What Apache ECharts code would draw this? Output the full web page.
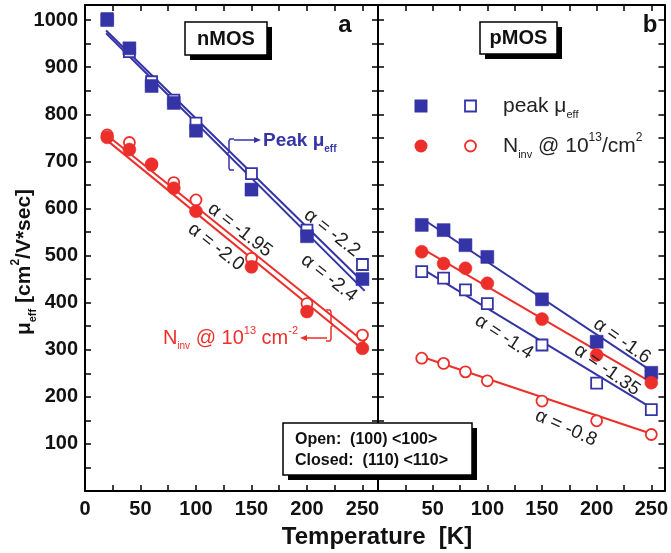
<!DOCTYPE html>
<html>
<head>
<meta charset="utf-8">
<script src="https://cdn.jsdelivr.net/npm/echarts@6/dist/echarts.min.js"></script>
<style>
  html, body { margin: 0; padding: 0; background: #fff; }
  #chart { width: 671px; height: 553px; }
</style>
</head>
<body>
<div id="chart"></div>
<script>
// Temperatures [K]
const tempN = [20, 40, 60, 80, 100, 150, 200, 250];
const tempP = [40, 60, 80, 100, 150, 200, 250];

// nMOS effective mobility [cm2/V*sec]
const nPeakClosed = [1000, 940, 860, 824, 765, 640, 541, 450];   // (110) <110>
const nPeakOpen   = [1003, 933, 869, 830, 781, 674, 554, 481];   // (100) <100>
const nNinvClosed = [751, 725, 694, 643, 594, 476, 381, 303];
const nNinvOpen   = [756, 740, 692, 655, 618, 494, 398, 331];

// pMOS effective mobility [cm2/V*sec]
const pPeakClosed = [565, 554, 522, 497, 407, 317, 251];
const pPeakOpen   = [466, 452, 427, 398, 310, 229, 173];
const pNinvClosed = [508, 483, 473, 441, 365, 289, 230];
const pNinvOpen   = [282, 271, 253, 234, 191, 149, 120];

// Fitted trend lines: [start, end] as [T, mobility]
const fitNPeakOpen   = [[19, 978], [250, 445]];   // alpha = -2.2
const fitNPeakClosed = [[19, 972], [252, 425]];   // alpha = -2.4
const fitNNinvOpen   = [[16, 763], [252, 316]];   // alpha = -1.95
const fitNNinvClosed = [[16, 752], [252, 298]];   // alpha = -2.0
const fitPPeakClosed = [[42, 576], [252, 252]];   // alpha = -1.6
const fitPNinvClosed = [[40, 515], [252, 228]];   // alpha = -1.35
const fitPPeakOpen   = [[40, 472], [252, 174]];   // alpha = -1.4
const fitPNinvOpen   = [[40, 285], [252, 120]];   // alpha = -0.8

// Tick labels
const yTickLabels = [100, 200, 300, 400, 500, 600, 700, 800, 900, 1000];
const xTickLabelsN = [0, 50, 100, 150, 200, 250];
const xTickLabelsP = [50, 100, 150, 200, 250];

const BLUE = '#3434a6';
const RED = '#ec2f2a';
const FONT = '"Liberation Sans", Arial, Helvetica, sans-serif';

const chart = echarts.init(document.getElementById('chart'), null, { renderer: 'canvas' });

function xAxisPair(grid, max, labels) {
  const base = {
    type: 'value', gridIndex: grid, min: 0, max: max, interval: 25,
    axisLine: { show: true, onZero: false, lineStyle: { color: '#000', width: 2 } },
    axisTick: { show: true, inside: true, length: 6, lineStyle: { color: '#000', width: 1.5 } },
    splitLine: { show: false }
  };
  return [
    Object.assign({}, base, {
      position: 'bottom',
      axisLabel: {
        show: true, margin: 8, color: '#111', fontSize: 20, fontWeight: 'bold', fontFamily: FONT,
        formatter: v => labels.includes(v) ? String(v) : ''
      }
    }),
    Object.assign({}, base, { position: 'top', axisLabel: { show: false } })
  ];
}

function yAxisPair(grid, showLabels) {
  const base = {
    type: 'value', gridIndex: grid, min: 0, max: 1032, interval: 50,
    axisLine: { show: true, onZero: false, lineStyle: { color: '#000', width: 2 } },
    axisTick: { show: true, inside: true, length: 6, lineStyle: { color: '#000', width: 1.5 } },
    splitLine: { show: false }
  };
  return [
    Object.assign({}, base, {
      position: 'left',
      axisLabel: {
        show: showLabels, margin: 7, color: '#111', fontSize: 20, fontWeight: 'bold', fontFamily: FONT,
        formatter: v => yTickLabels.includes(v) ? String(v) : ''
      }
    }),
    Object.assign({}, base, { position: 'right', axisLabel: { show: false } })
  ];
}

function pts(xs, ys) { return xs.map((x, i) => [x, ys[i]]); }

function marks(xi, yi, data, shape, filled, color) {
  return {
    type: 'scatter', xAxisIndex: xi, yAxisIndex: yi, data: data,
    symbol: shape === 'square' ? 'rect' : 'circle',
    symbolSize: filled ? 13 : 11,
    itemStyle: filled
      ? { color: color, borderColor: color, borderWidth: 0.5, opacity: 1 }
      : { color: '#fff', borderColor: color, borderWidth: 1.8, opacity: 1 },
    z: filled ? 4 : 3
  };
}

function fit(xi, yi, data, color) {
  return {
    type: 'line', xAxisIndex: xi, yAxisIndex: yi, data: data,
    symbol: 'none', lineStyle: { color: color, width: 2 }, z: 2
  };
}

function alphaText(txt, x, y, deg) {
  return {
    type: 'text', x: x, y: y, rotation: -deg * Math.PI / 180, z: 10,
    style: { text: txt, fill: '#222', font: '19px ' + FONT, align: 'center', verticalAlign: 'middle' }
  };
}

function shadowBox(x, y, w, h) {
  return [
    { type: 'rect', shape: { x: x + 5, y: y + 5, width: w, height: h }, style: { fill: '#000' }, z: 8 },
    { type: 'rect', shape: { x: x, y: y, width: w, height: h }, style: { fill: '#fff', stroke: '#000', lineWidth: 1.5 }, z: 9 }
  ];
}

const graphics = [];
// panel tags
graphics.push(...shadowBox(185, 22, 82, 33));
graphics.push({ type: 'text', x: 226, y: 39, z: 10,
  style: { text: 'nMOS', font: 'bold 20px ' + FONT, fill: '#111', align: 'center', verticalAlign: 'middle' } });
graphics.push(...shadowBox(480, 22, 77, 32));
graphics.push({ type: 'text', x: 518.5, y: 38.5, z: 10,
  style: { text: 'pMOS', font: 'bold 20px ' + FONT, fill: '#111', align: 'center', verticalAlign: 'middle' } });
graphics.push({ type: 'text', x: 345, y: 25, z: 10,
  style: { text: 'a', font: 'bold 24px ' + FONT, fill: '#111', align: 'center', verticalAlign: 'middle' } });
graphics.push({ type: 'text', x: 650, y: 25, z: 10,
  style: { text: 'b', font: 'bold 24px ' + FONT, fill: '#111', align: 'center', verticalAlign: 'middle' } });

// orientation box
graphics.push(...shadowBox(283, 423, 189, 52));
graphics.push({ type: 'text', x: 295, y: 440, z: 10,
  style: { text: 'Open:  (100) <100>', font: 'bold 16px ' + FONT, fill: '#111', align: 'left', verticalAlign: 'middle' } });
graphics.push({ type: 'text', x: 295, y: 461, z: 10,
  style: { text: 'Closed:  (110) <110>', font: 'bold 16px ' + FONT, fill: '#111', align: 'left', verticalAlign: 'middle' } });

// legend of panel b
graphics.push({ type: 'rect', shape: { x: 414.5, y: 99.5, width: 13, height: 13 }, style: { fill: BLUE }, z: 10 });
graphics.push({ type: 'rect', shape: { x: 465, y: 100.5, width: 11, height: 11 }, style: { fill: '#fff', stroke: BLUE, lineWidth: 1.8 }, z: 10 });
graphics.push({ type: 'circle', shape: { cx: 421, cy: 146, r: 6.5 }, style: { fill: RED }, z: 10 });
graphics.push({ type: 'circle', shape: { cx: 470.5, cy: 146, r: 5.5 }, style: { fill: '#fff', stroke: RED, lineWidth: 1.8 }, z: 10 });
graphics.push({ type: 'text', x: 503, y: 106, z: 10,
  style: {
    text: '{m|peak μ}{s|eff}', align: 'left', verticalAlign: 'middle',
    rich: {
      m: { font: '21px ' + FONT, fill: '#222', lineHeight: 28, verticalAlign: 'middle' },
      s: { font: '11px ' + FONT, fill: '#222', lineHeight: 12, verticalAlign: 'bottom' }
    }
  } });
graphics.push({ type: 'text', x: 503, y: 146, z: 10,
  style: {
    text: '{m|N}{s|inv}{m| @ 10}{p|13}{m|/cm}{p|2}', align: 'left', verticalAlign: 'middle',
    rich: {
      m: { font: '21px ' + FONT, fill: '#222', lineHeight: 28, verticalAlign: 'middle' },
      s: { font: '11px ' + FONT, fill: '#222', lineHeight: 12, verticalAlign: 'bottom' },
      p: { font: '12px ' + FONT, fill: '#222', lineHeight: 12, verticalAlign: 'top' }
    }
  } });

// slope annotations
graphics.push(alphaText('α = -2.2', 332, 233, 38));
graphics.push(alphaText('α = -2.4', 329, 278, 38));
graphics.push(alphaText('α = -1.95', 240, 230, 38));
graphics.push(alphaText('α = -2.0', 216, 247, 38));
graphics.push(alphaText('α = -1.6', 622, 341, 35));
graphics.push(alphaText('α = -1.35', 607, 370, 35));
graphics.push(alphaText('α = -1.4', 504, 337, 33));
graphics.push(alphaText('α = -0.8', 566, 428, 24));

// "Peak μeff" callout with brace and arrow
graphics.push({ type: 'polyline', z: 10,
  shape: { points: [[234, 139], [230, 139], [229, 141], [229, 152], [227, 154], [229, 156], [229, 168], [230, 170], [234, 170]] },
  style: { stroke: BLUE, lineWidth: 1.5, fill: null } });
graphics.push({ type: 'line', z: 10, shape: { x1: 234, y1: 140, x2: 255, y2: 140 }, style: { stroke: BLUE, lineWidth: 1.5 } });
graphics.push({ type: 'polygon', z: 10, shape: { points: [[261, 140], [254, 137], [254, 143]] }, style: { fill: BLUE } });
graphics.push({ type: 'text', x: 263, y: 141, z: 10,
  style: {
    text: '{m|Peak μ}{s|eff}', align: 'left', verticalAlign: 'middle',
    rich: {
      m: { font: 'bold 19px ' + FONT, fill: BLUE, lineHeight: 26, verticalAlign: 'middle' },
      s: { font: 'bold 10px ' + FONT, fill: BLUE, lineHeight: 11, verticalAlign: 'bottom' }
    }
  } });

// "Ninv @ 10^13 cm^-2" callout with brace and arrow
graphics.push({ type: 'polyline', z: 10,
  shape: { points: [[326, 310], [330, 310], [331, 312], [331, 323], [333, 325], [331, 327], [331, 339], [330, 341], [326, 341]] },
  style: { stroke: RED, lineWidth: 1.5, fill: null } });
graphics.push({ type: 'line', z: 10, shape: { x1: 327, y1: 338, x2: 306, y2: 338 }, style: { stroke: RED, lineWidth: 1.5 } });
graphics.push({ type: 'polygon', z: 10, shape: { points: [[300, 338], [307, 335], [307, 341]] }, style: { fill: RED } });
graphics.push({ type: 'text', x: 298, y: 338, z: 10,
  style: {
    text: '{m|N}{s|inv}{m| @ 10}{p|13}{m| cm}{p|-2}', align: 'right', verticalAlign: 'middle',
    rich: {
      m: { font: '20px ' + FONT, fill: RED, lineHeight: 26, verticalAlign: 'middle' },
      s: { font: '10px ' + FONT, fill: RED, lineHeight: 11, verticalAlign: 'bottom' },
      p: { font: '11px ' + FONT, fill: RED, lineHeight: 11, verticalAlign: 'top' }
    }
  } });

// axis titles
graphics.push({ type: 'text', x: 377, y: 537, z: 10,
  style: { text: 'Temperature  [K]', font: 'bold 24px ' + FONT, fill: '#111', align: 'center', verticalAlign: 'middle' } });
graphics.push({ type: 'text', x: 24, y: 262, rotation: Math.PI / 2, z: 10,
  style: {
    text: '{m|μ}{s|eff}{m| [cm}{p|2}{m|/V*sec]}', align: 'center', verticalAlign: 'middle',
    rich: {
      m: { font: 'bold 21px ' + FONT, fill: '#111', lineHeight: 28, verticalAlign: 'middle' },
      s: { font: 'bold 11px ' + FONT, fill: '#111', lineHeight: 12, verticalAlign: 'bottom' },
      p: { font: 'bold 12px ' + FONT, fill: '#111', lineHeight: 12, verticalAlign: 'top' }
    }
  } });

const option = {
  animation: false,
  backgroundColor: '#fff',
  grid: [
    { left: 85, top: 5, width: 293, height: 486, containLabel: false },
    { left: 378, top: 5, width: 290, height: 486, containLabel: false }
  ],
  xAxis: [...xAxisPair(0, 264, xTickLabelsN), ...xAxisPair(1, 262, xTickLabelsP)],
  yAxis: [...yAxisPair(0, true), ...yAxisPair(1, false)],
  series: [
    // nMOS
    fit(0, 0, fitNPeakOpen, BLUE),
    fit(0, 0, fitNPeakClosed, BLUE),
    fit(0, 0, fitNNinvOpen, RED),
    fit(0, 0, fitNNinvClosed, RED),
    marks(0, 0, pts(tempN, nPeakOpen), 'square', false, BLUE),
    marks(0, 0, pts(tempN, nPeakClosed), 'square', true, BLUE),
    marks(0, 0, pts(tempN, nNinvOpen), 'circle', false, RED),
    marks(0, 0, pts(tempN, nNinvClosed), 'circle', true, RED),
    // pMOS
    fit(2, 2, fitPPeakClosed, BLUE),
    fit(2, 2, fitPNinvClosed, RED),
    fit(2, 2, fitPPeakOpen, BLUE),
    fit(2, 2, fitPNinvOpen, RED),
    marks(2, 2, pts(tempP, pPeakOpen), 'square', false, BLUE),
    marks(2, 2, pts(tempP, pPeakClosed), 'square', true, BLUE),
    marks(2, 2, pts(tempP, pNinvOpen), 'circle', false, RED),
    marks(2, 2, pts(tempP, pNinvClosed), 'circle', true, RED)
  ],
  graphic: graphics
};

chart.setOption(option);
</script>
</body>
</html>
